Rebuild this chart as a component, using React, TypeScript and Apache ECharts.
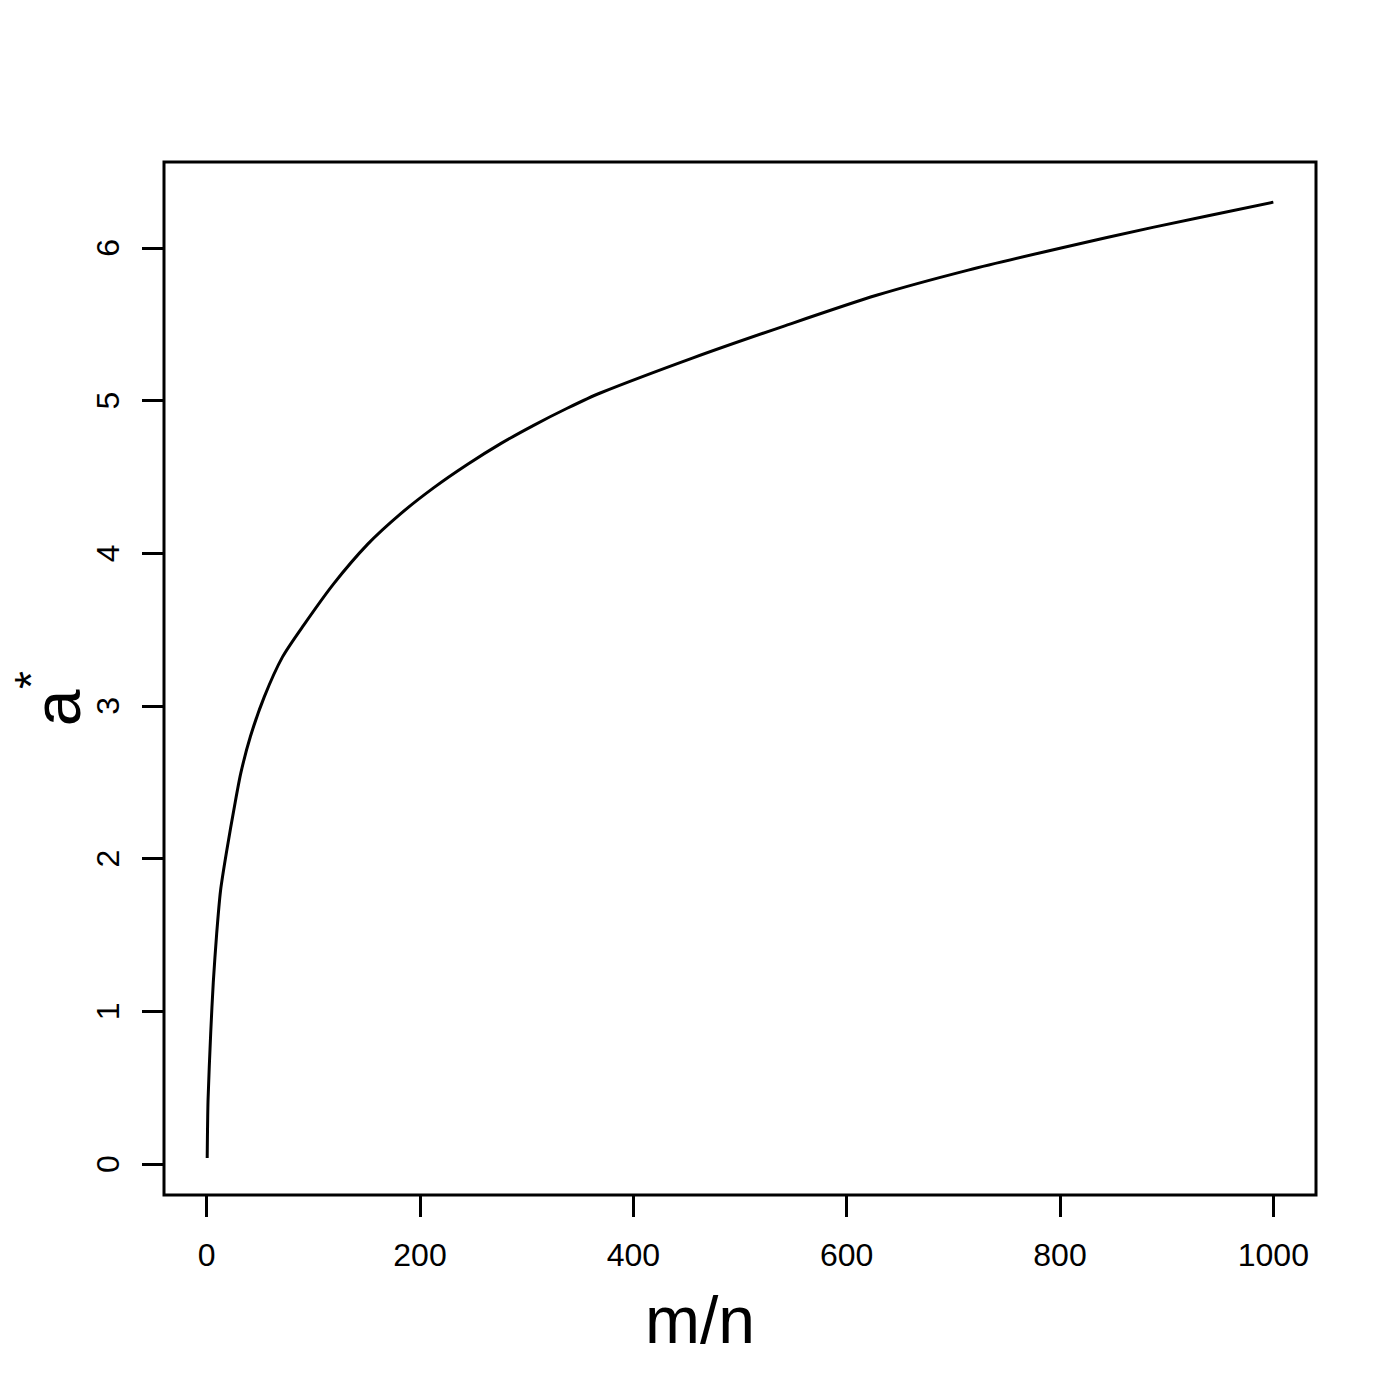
import React, { useEffect, useRef } from "react";
import * as echarts from "echarts";

// Curve a* against m/n
const mnValues = [0.5, 1.3, 3.8, 6.2, 9.4, 13, 19, 26, 32, 41, 54, 71, 91, 119, 151, 182, 213, 244, 276, 307, 338, 369, 456, 542, 628, 714, 801, 887, 1000];
const aStarValues = [0.04, 0.42, 0.86, 1.19, 1.51, 1.79, 2.06, 2.34, 2.56, 2.8, 3.06, 3.32, 3.53, 3.8, 4.06, 4.26, 4.43, 4.58, 4.72, 4.84, 4.95, 5.05, 5.28, 5.49, 5.69, 5.855, 6.0, 6.135, 6.3];

const xTicks = [0, 200, 400, 600, 800, 1000];
const yTicks = [0, 1, 2, 3, 4, 5, 6];

const xLabel = "m/n";
const yLabelMain = "a";
const yLabelSup = "*";

const FONT = "'Liberation Sans', Arial, Helvetica, sans-serif";

export default function App() {
  const ref = useRef<HTMLDivElement>(null);

  useEffect(() => {
    if (!ref.current) return;
    const chart = echarts.init(ref.current, undefined, { renderer: "svg" });
    const data = mnValues.map((x, i) => [x, aStarValues[i]]);
    chart.setOption({
      animation: false,
      backgroundColor: "#ffffff",
      grid: {
        left: 164,
        top: 162,
        right: 84,
        bottom: 205,
        show: true,
        borderColor: "#000",
        borderWidth: 3,
        backgroundColor: "transparent",
      },
      xAxis: {
        type: "value",
        min: -40,
        max: 1040,
        axisLine: { show: false, onZero: false },
        splitLine: { show: false },
        axisTick: {
          show: true,
          length: 22,
          customValues: xTicks,
          lineStyle: { color: "#000", width: 3 },
        },
        axisLabel: {
          customValues: xTicks,
          formatter: (v: number) => String(v),
          fontSize: 32,
          color: "#000",
          fontFamily: FONT,
          margin: 44,
        },
      },
      yAxis: {
        type: "value",
        min: -0.203,
        max: 6.563,
        axisLine: { show: false, onZero: false },
        splitLine: { show: false },
        axisTick: {
          show: true,
          length: 22,
          customValues: yTicks,
          lineStyle: { color: "#000", width: 3 },
        },
        axisLabel: {
          customValues: yTicks,
          formatter: (v: number) => String(v),
          fontSize: 32,
          color: "#000",
          fontFamily: FONT,
          rotate: 90,
          margin: 40,
        },
      },
      series: [
        {
          type: "line",
          data,
          smooth: 0.25,
          showSymbol: false,
          lineStyle: { color: "#000", width: 3 },
        },
      ],
      graphic: [
        {
          type: "text",
          x: 700,
          y: 1320,
          style: {
            text: xLabel,
            fontSize: 66,
            fontFamily: FONT,
            fill: "#000",
            align: "center",
            verticalAlign: "middle",
          },
        },
        {
          type: "text",
          x: 57,
          y: 708,
          rotation: Math.PI / 2,
          style: {
            text: yLabelMain,
            fontSize: 66,
            fontFamily: FONT,
            fill: "#000",
            align: "center",
            verticalAlign: "middle",
          },
        },
        {
          type: "text",
          x: 31,
          y: 680,
          rotation: Math.PI / 2,
          style: {
            text: yLabelSup,
            fontSize: 46,
            fontFamily: FONT,
            fill: "#000",
            align: "center",
            verticalAlign: "middle",
          },
        },
      ],
    });
    return () => chart.dispose();
  }, []);

  return (
    <div
      ref={ref}
      style={{ position: "fixed", left: 0, top: 0, width: 1400, height: 1400 }}
    />
  );
}
